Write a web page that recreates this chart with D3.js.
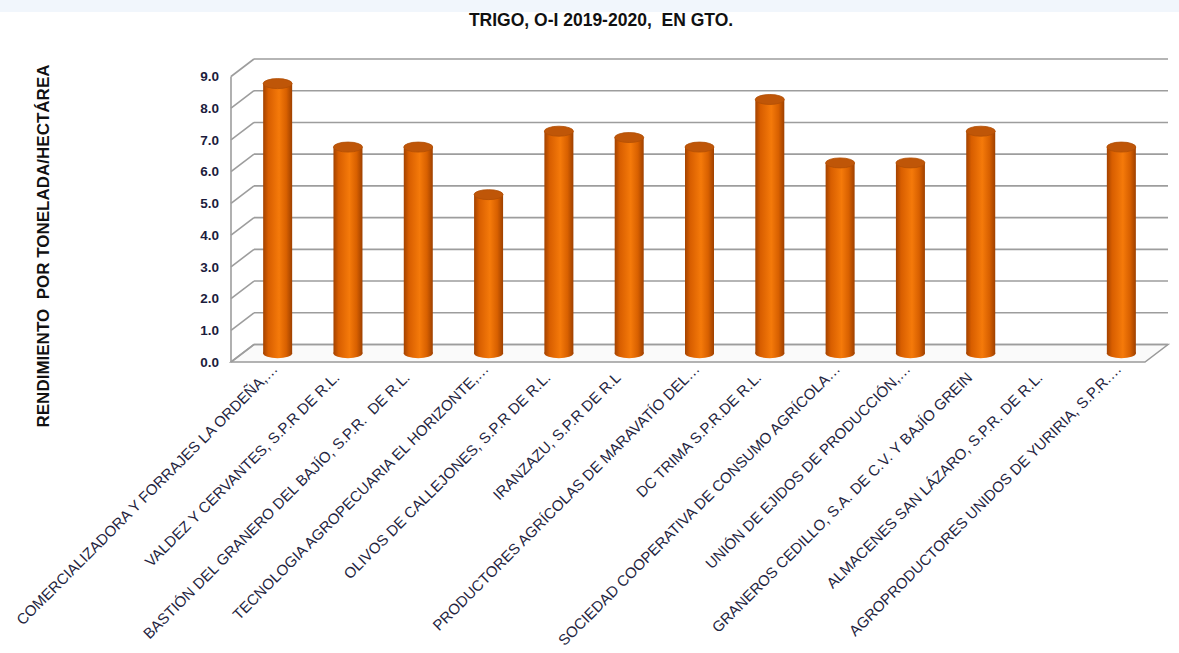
<!DOCTYPE html>
<html>
<head>
<meta charset="utf-8">
<script src="https://cdn.jsdelivr.net/npm/d3@7"></script>
<style>
  body { margin:0; background:#fff; font-family: "Liberation Sans", Arial, sans-serif; }
  svg { display:block; }
</style>
</head>
<body>
<svg></svg>
<script>
var categories = [
  "COMERCIALIZADORA Y FORRAJES LA ORDEÑA,…",
  "VALDEZ Y CERVANTES, S.P.R DE R.L.",
  "BASTIÓN DEL GRANERO DEL BAJÍO, S.P.R.  DE R.L.",
  "TECNOLOGIA AGROPECUARIA EL HORIZONTE,…",
  "OLIVOS DE CALLEJONES, S.P.R DE R.L.",
  "IRANZAZU, S.P.R DE R.L",
  "PRODUCTORES AGRÍCOLAS DE MARAVATÍO DEL…",
  "DC TRIMA S.P.R.DE R.L.",
  "SOCIEDAD COOPERATIVA DE CONSUMO AGRÍCOLA…",
  "UNIÓN DE EJIDOS DE PRODUCCIÓN,…",
  "GRANEROS CEDILLO, S.A. DE C.V. Y BAJÍO GREIN",
  "ALMACENES SAN LÁZARO, S.P.R. DE R.L.",
  "AGROPRODUCTORES UNIDOS DE YURIRIA, S.P.R.…"
]
var values = [8.5, 6.5, 6.5, 5.0, 7.0, 6.8, 6.5, 8.0, 6.0, 6.0, 7.0, null, 6.5]
var yTicks = [0,1,2,3,4,5,6,7,8,9]

var width = 1179, height = 653
var plotLeft = 231, plotRight = 1145, plotBottom = 362, plotTop = 76.5
var depthX = 23, depthY = -17.5   // 3d offset of back wall

var svg = d3.select("svg").attr("width", width).attr("height", height)

var defs = svg.append("defs")
var grad = defs.append("linearGradient").attr("id","cyl").attr("x1","0%").attr("x2","100%")
grad.append("stop").attr("offset","0%").attr("stop-color","#a34200")
grad.append("stop").attr("offset","18%").attr("stop-color","#d85e00")
grad.append("stop").attr("offset","55%").attr("stop-color","#f57a0a")
grad.append("stop").attr("offset","80%").attr("stop-color","#d86000")
grad.append("stop").attr("offset","100%").attr("stop-color","#9e4000")

// top strip
svg.append("rect").attr("x",0).attr("y",0).attr("width",width).attr("height",12).attr("fill","#f1f6fc")

var xScale = d3.scaleBand().domain(categories).range([plotLeft, plotRight])
var yScale = d3.scaleLinear().domain([0, 9]).range([plotBottom, plotTop])

// floor
svg.append("path")
  .attr("d", "M"+plotLeft+","+plotBottom+"L"+plotRight+","+plotBottom+"L"+(plotRight+depthX)+","+(plotBottom+depthY)+"L"+(plotLeft+depthX)+","+(plotBottom+depthY)+"Z")
  .attr("fill","#fafafa").attr("stroke","#9a9a9a").attr("stroke-width",1.5)

// back wall gridlines + left wall diagonals
var grid = svg.append("g").attr("stroke","#9d9d9d").attr("stroke-width",1.6).attr("fill","none")
yTicks.forEach(function(t){
  var y = yScale(t)
  grid.append("line").attr("x1",plotLeft+depthX).attr("x2",plotRight+depthX).attr("y1",y+depthY).attr("y2",y+depthY)
  grid.append("line").attr("x1",plotLeft).attr("x2",plotLeft+depthX).attr("y1",y).attr("y2",y+depthY)
})
grid.append("line").attr("x1",plotLeft).attr("x2",plotLeft).attr("y1",yScale(9)).attr("y2",plotBottom)

// y axis labels
var yAxis = d3.axisLeft(yScale).tickValues(yTicks).tickFormat(d3.format(".1f")).tickSize(0).tickPadding(12)
var yg = svg.append("g").attr("transform","translate("+plotLeft+",0)").call(yAxis)
yg.select(".domain").remove()
yg.selectAll("text").attr("font-size","13.5px").attr("font-weight","bold").attr("fill","#1c1c3c")
  .attr("font-family","Liberation Sans, Arial, sans-serif")

// cylinders
var bw = 29, ry = 5
var bars = svg.append("g").selectAll("g").data(categories.map(function(c,i){ return {name:c, value:values[i]} }).filter(function(d){ return d.value != null }))
  .enter().append("g")
bars.each(function(d){
  var g = d3.select(this)
  var cx = xScale(d.name) + xScale.bandwidth()/2 + depthX/2
  var yb = yScale(0) + depthY/2
  var yt = yScale(d.value) + depthY/2
  g.append("ellipse").attr("cx",cx).attr("cy",yb).attr("rx",bw/2).attr("ry",ry).attr("fill","url(#cyl)")
  g.append("rect").attr("x",cx-bw/2).attr("y",yt).attr("width",bw).attr("height",yb-yt).attr("fill","url(#cyl)")
  g.append("ellipse").attr("cx",cx).attr("cy",yt).attr("rx",bw/2).attr("ry",ry).attr("fill","#bf5608")
    .attr("stroke","#b04e05").attr("stroke-width",0.8)
})

// category labels
svg.append("g").selectAll("text").data(categories).enter().append("text")
  .attr("transform", function(d){
    var cx = xScale(d) + xScale.bandwidth()/2 + depthX/2
    return "translate("+(cx+1)+","+(plotBottom+8)+") rotate(-45)"
  })
  .attr("text-anchor","end")
  .attr("dx", function(d){ return d.slice(-1) == "…" ? 0 : -12 })
  .attr("font-size","15px")
  .attr("fill","#24243e")
  .style("white-space","pre")
  .text(function(d){ return d })

// titles
svg.append("text").attr("x",601).attr("y",26).attr("text-anchor","middle")
  .attr("font-size","17.5px").attr("font-weight","bold").attr("fill","#111")
  .style("white-space","pre")
  .text("TRIGO, O-I 2019-2020,  EN GTO.")

svg.append("text").attr("transform","translate(49,246) rotate(-90)").attr("text-anchor","middle")
  .attr("font-size","17px").attr("font-weight","bold").attr("fill","#111")
  .style("white-space","pre")
  .text("RENDIMIENTO  POR TONELADA/HECTÁREA")
</script>
</body>
</html>
